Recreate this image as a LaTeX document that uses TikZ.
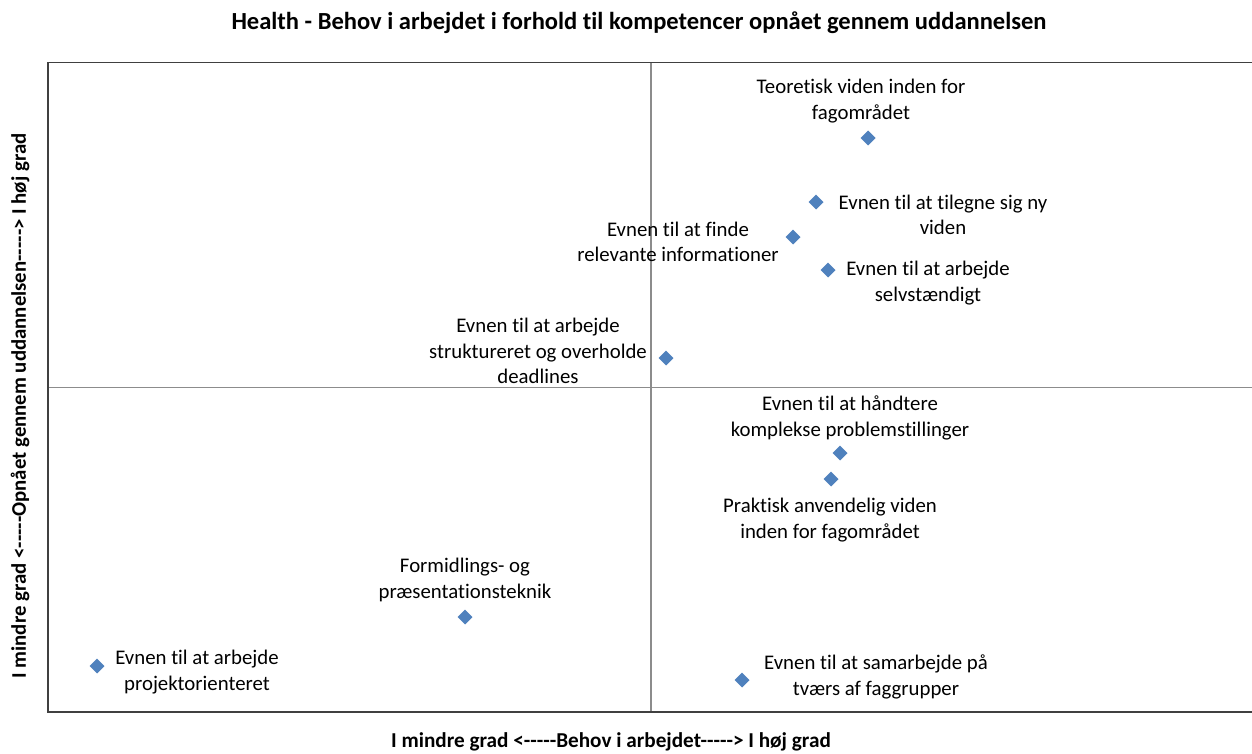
\documentclass[tikz,border=0pt]{standalone}
\usepackage{fontspec}
\setmainfont{Carlito}[Ligatures={NoCommon}]
\usetikzlibrary{shapes.geometric}
\definecolor{mkblue}{HTML}{4F81BD}
\definecolor{axgray}{HTML}{8C8C8C}
\definecolor{frame}{HTML}{404040}
\tikzset{
  mk/.style={diamond,fill=mkblue,inner sep=0pt,minimum size=11.4pt},
  lbl/.style={align=center,inner sep=0pt,font=\fontsize{15.6pt}{18.9pt}\selectfont},
  ttl/.style={inner sep=0pt,font=\bfseries\fontsize{18.4pt}{20pt}\selectfont},
  axl/.style={inner sep=0pt,font=\bfseries\fontsize{15.9pt}{18pt}\selectfont},
}
\begin{document}
\begin{tikzpicture}[x=0.75pt,y=-0.75pt]
\useasboundingbox (0,0) rectangle (1252,753);
\fill[white] (0,0) rectangle (1252,753);
% axes
\coordinate (vt) at (651,62.5);
\coordinate (vb) at (651,712);
\coordinate (hl) at (48,387.5);
\coordinate (hr) at (1252,387.5);
\draw[axgray,line width=1.1pt] (vt) -- (vb);
\draw[axgray,line width=1.1pt] (hl) -- (hr);
% frame
\coordinate (ftr) at (1252,62.5);
\coordinate (ftl) at (48,62.5);
\coordinate (fbl) at (48,712);
\coordinate (fbr) at (1252,712);
\draw[frame,line width=1.3pt] (ftr) -- (ftl) -- (fbl) -- (fbr);
% title and axis labels
\node[ttl] (title) at (639,23) {Health - Behov i arbejdet i forhold til kompetencer opnået gennem uddannelsen};
\node[axl] (xlab) at (611,742) {I mindre grad <-{}-{}-{}-{}-Behov i arbejdet-{}-{}-{}-{}-> I høj grad};
\node[axl,font=\bfseries\fontsize{15.6pt}{18pt}\selectfont,rotate=90] (ylab) at (20,406) {I mindre grad <-{}-{}-{}-{}-Opnået gennem uddannelsen-{}-{}-{}-{}-> I høj grad};
% markers
\node[mk] (m1) at (868,138) {};
\node[mk] (m2) at (816,202) {};
\node[mk] (m3) at (793,237) {};
\node[mk] (m4) at (828,270) {};
\node[mk] (m5) at (666,358) {};
\node[mk] (m6) at (840,453) {};
\node[mk] (m7) at (831,479) {};
\node[mk] (m8) at (465,617) {};
\node[mk] (m9) at (97,666) {};
\node[mk] (m10) at (742,680) {};
% labels
\node[lbl] (l1) at (861,101) {Teoretisk viden inden for\\fagområdet};
\node[lbl] (l2) at (943,215) {Evnen til at tilegne sig ny\\viden};
\node[lbl] (l3) at (678,242) {Evnen til at finde\\relevante informationer};
\node[lbl] (l4) at (928,283) {Evnen til at arbejde\\selvstændigt};
\node[lbl] (l5) at (538,351) {Evnen til at arbejde\\struktureret og overholde\\deadlines};
\node[lbl] (l6) at (850,418) {Evnen til at håndtere\\komplekse problemstillinger};
\node[lbl] (l7) at (830,520) {Praktisk anvendelig viden\\inden for fagområdet};
\node[lbl] (l8) at (465,580) {Formidlings- og\\præsentationsteknik};
\node[lbl] (l9) at (197,672) {Evnen til at arbejde\\projektorienteret};
\node[lbl] (l10) at (876,677) {Evnen til at samarbejde på\\tværs af faggrupper};
\end{tikzpicture}
\end{document}
